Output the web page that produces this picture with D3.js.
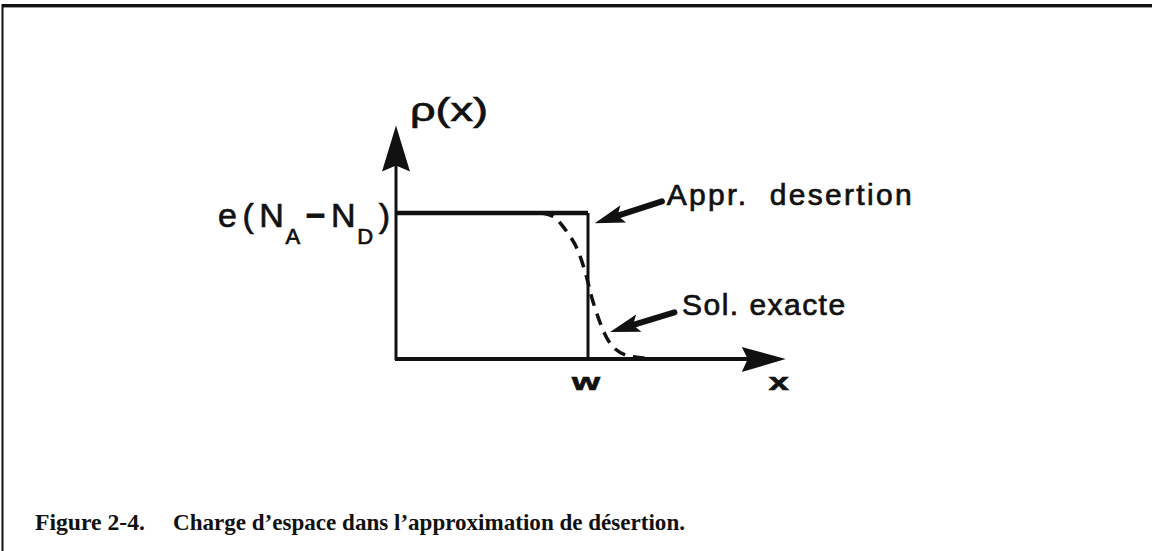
<!DOCTYPE html>
<html>
<head>
<meta charset="utf-8">
<script src="https://cdn.jsdelivr.net/npm/d3@7"></script>
<style>
  html, body { margin: 0; padding: 0; background: #fff; }
  svg { display: block; }
  .lettering { font-family: "Liberation Sans", "DejaVu Sans", sans-serif; fill: #111; stroke: #111; stroke-width: 0.7px; }
  .caption { font-family: "Liberation Serif", serif; font-weight: bold; fill: #111; }
</style>
</head>
<body>
<svg id="fig" width="1152" height="551"></svg>
<script>
// Space-charge profile rho(x): x in units of the depletion width W,
// rho in units of e(NA - ND).
const approxX = [0, 1, 1];          // depletion approximation (box profile)
const approxY = [1, 1, 0];
const exactX = [0.76, 0.82, 0.88, 0.93, 0.96, 0.995, 1.02, 1.06, 1.10, 1.14, 1.20, 1.28, 1.38];
const exactY = [1.0, 0.975, 0.89, 0.79, 0.70, 0.55, 0.42, 0.26, 0.14, 0.07, 0.025, 0.008, 0.0];
const axisExtent = { x: 2.03, y: 1.60 };
const tickLabels = { x: "w", axis: "x", yTitle: "ρ(x)" };
const annotations = [
  { text: "Appr.  desertion", tail: [1.385, 1.08], tip: [1.035, 0.93], at: [1.41, 1.055], len: 245 },
  { text: "Sol. exacte", tail: [1.45, 0.32], tip: [1.115, 0.185], at: [1.49, 0.30], len: 163 }
];
const captionNum = "Figure 2-4.";
const captionText = "Charge d’espace dans l’approximation de désertion.";

const svg = d3.select("#fig");
const x = d3.scaleLinear().domain([0, 1]).range([396, 588]);
const y = d3.scaleLinear().domain([0, 1]).range([359, 213]);

// page frame (top rule and left rule of the scanned page)
svg.append("line").attr("x1", 2).attr("x2", 1152).attr("y1", 5.5).attr("y2", 5.5)
  .attr("stroke", "#111").attr("stroke-width", 3);
svg.append("line").attr("x1", 2).attr("x2", 1152).attr("y1", 7.5).attr("y2", 7.5)
  .attr("stroke", "#999").attr("stroke-width", 1);
svg.append("line").attr("x1", 2.5).attr("x2", 2.5).attr("y1", 4).attr("y2", 551)
  .attr("stroke", "#111").attr("stroke-width", 2);

// axes
svg.append("line").attr("x1", x(0)).attr("x2", x(0)).attr("y1", y(0) + 1).attr("y2", y(axisExtent.y) + 30)
  .attr("stroke", "#111").attr("stroke-width", 3);
svg.append("line").attr("x1", x(0) - 1).attr("x2", x(axisExtent.x) - 30).attr("y1", y(0)).attr("y2", y(0))
  .attr("stroke", "#111").attr("stroke-width", 4);

// arrow heads of the axes
const yt = [x(0), y(axisExtent.y)];
svg.append("path")
  .attr("d", `M${yt[0]},${yt[1]} L${yt[0] + 14},${yt[1] + 46} L${yt[0]},${yt[1] + 40} L${yt[0] - 14},${yt[1] + 46} Z`)
  .attr("fill", "#111");
const xt = [x(axisExtent.x), y(0)];
svg.append("path")
  .attr("d", `M${xt[0]},${xt[1]} L${xt[0] - 44},${xt[1] + 13} L${xt[0] - 38},${xt[1]} L${xt[0] - 44},${xt[1] - 12} Z`)
  .attr("fill", "#111");

// depletion approximation profile
const line = d3.line().x(d => x(d[0])).y(d => y(d[1]));
const approx = approxX.map((v, i) => [v, approxY[i]]);
svg.append("path").attr("d", line([[0, 1], approx[0], approx[1]]))
  .attr("fill", "none").attr("stroke", "#111").attr("stroke-width", 4.5);
svg.append("path").attr("d", line([approx[1], approx[2]]))
  .attr("fill", "none").attr("stroke", "#111").attr("stroke-width", 3);

// exact solution (dashed)
const exact = exactX.map((v, i) => [v, exactY[i]]);
svg.append("path").attr("d", d3.line().curve(d3.curveCatmullRom).x(d => x(d[0])).y(d => y(d[1]))(exact))
  .attr("fill", "none").attr("stroke", "#111").attr("stroke-width", 3.5)
  .attr("stroke-dasharray", "12,8");

// rho(x) axis label
svg.append("text").attr("class", "lettering")
  .attr("x", x(0) + 14).attr("y", y(axisExtent.y) - 4)
  .attr("font-size", 34).attr("textLength", 78).attr("lengthAdjust", "spacingAndGlyphs")
  .text(tickLabels.yTitle);

// e(NA - ND) level label
const lvl = svg.append("text").attr("class", "lettering")
  .attr("x", x(0) - 6).attr("y", y(1) + 14).attr("text-anchor", "end").attr("font-size", 34)
  .attr("textLength", 172).attr("lengthAdjust", "spacing");
lvl.append("tspan").text("e(N");
lvl.append("tspan").attr("font-size", 22).attr("dy", 17).attr("dx", -4).text("A");
lvl.append("tspan").attr("dy", -17).attr("font-weight", "bold").text("−");
lvl.append("tspan").text("N");
lvl.append("tspan").attr("font-size", 22).attr("dy", 17).attr("dx", -4).text("D");
lvl.append("tspan").attr("dy", -17).text(")");

// tick labels on the x axis
svg.append("text").attr("class", "lettering")
  .attr("x", x(1) - 16).attr("y", y(0) + 31).attr("font-size", 24).attr("font-weight", "bold")
  .attr("textLength", 28).attr("lengthAdjust", "spacingAndGlyphs")
  .text(tickLabels.x);
svg.append("text").attr("class", "lettering")
  .attr("x", x(axisExtent.x) - 17).attr("y", y(0) + 31).attr("font-size", 24).attr("font-weight", "bold")
  .attr("textLength", 20).attr("lengthAdjust", "spacingAndGlyphs")
  .text(tickLabels.axis);

// annotation arrows and labels
annotations.forEach(a => {
  const [x0, y0] = [x(a.tail[0]), y(a.tail[1])];
  const [x1, y1] = [x(a.tip[0]), y(a.tip[1])];
  const ang = Math.atan2(y1 - y0, x1 - x0);
  const L = 30, Wd = 9;
  const bx = x1 - L * Math.cos(ang), by = y1 - L * Math.sin(ang);
  const nx = -Math.sin(ang), ny = Math.cos(ang);
  svg.append("line").attr("x1", x0).attr("y1", y0).attr("x2", bx + 4 * Math.cos(ang)).attr("y2", by + 4 * Math.sin(ang))
    .attr("stroke", "#111").attr("stroke-width", 6).attr("stroke-linecap", "round");
  svg.append("path")
    .attr("d", `M${x1},${y1} L${bx + nx * Wd},${by + ny * Wd} L${bx + 6 * Math.cos(ang)},${by + 6 * Math.sin(ang)} L${bx - nx * Wd},${by - ny * Wd} Z`)
    .attr("fill", "#111");
  svg.append("text").attr("class", "lettering")
    .attr("x", x(a.at[0])).attr("y", y(a.at[1])).attr("font-size", 30)
    .attr("textLength", a.len).attr("lengthAdjust", "spacing")
    .style("white-space", "pre")
    .text(a.text);
});

// caption
svg.append("text").attr("class", "caption")
  .attr("x", 35).attr("y", 530).attr("font-size", 24)
  .attr("textLength", 110).attr("lengthAdjust", "spacingAndGlyphs")
  .text(captionNum);
svg.append("text").attr("class", "caption")
  .attr("x", 173).attr("y", 530).attr("font-size", 24)
  .attr("textLength", 512).attr("lengthAdjust", "spacingAndGlyphs")
  .text(captionText);
</script>
</body>
</html>
